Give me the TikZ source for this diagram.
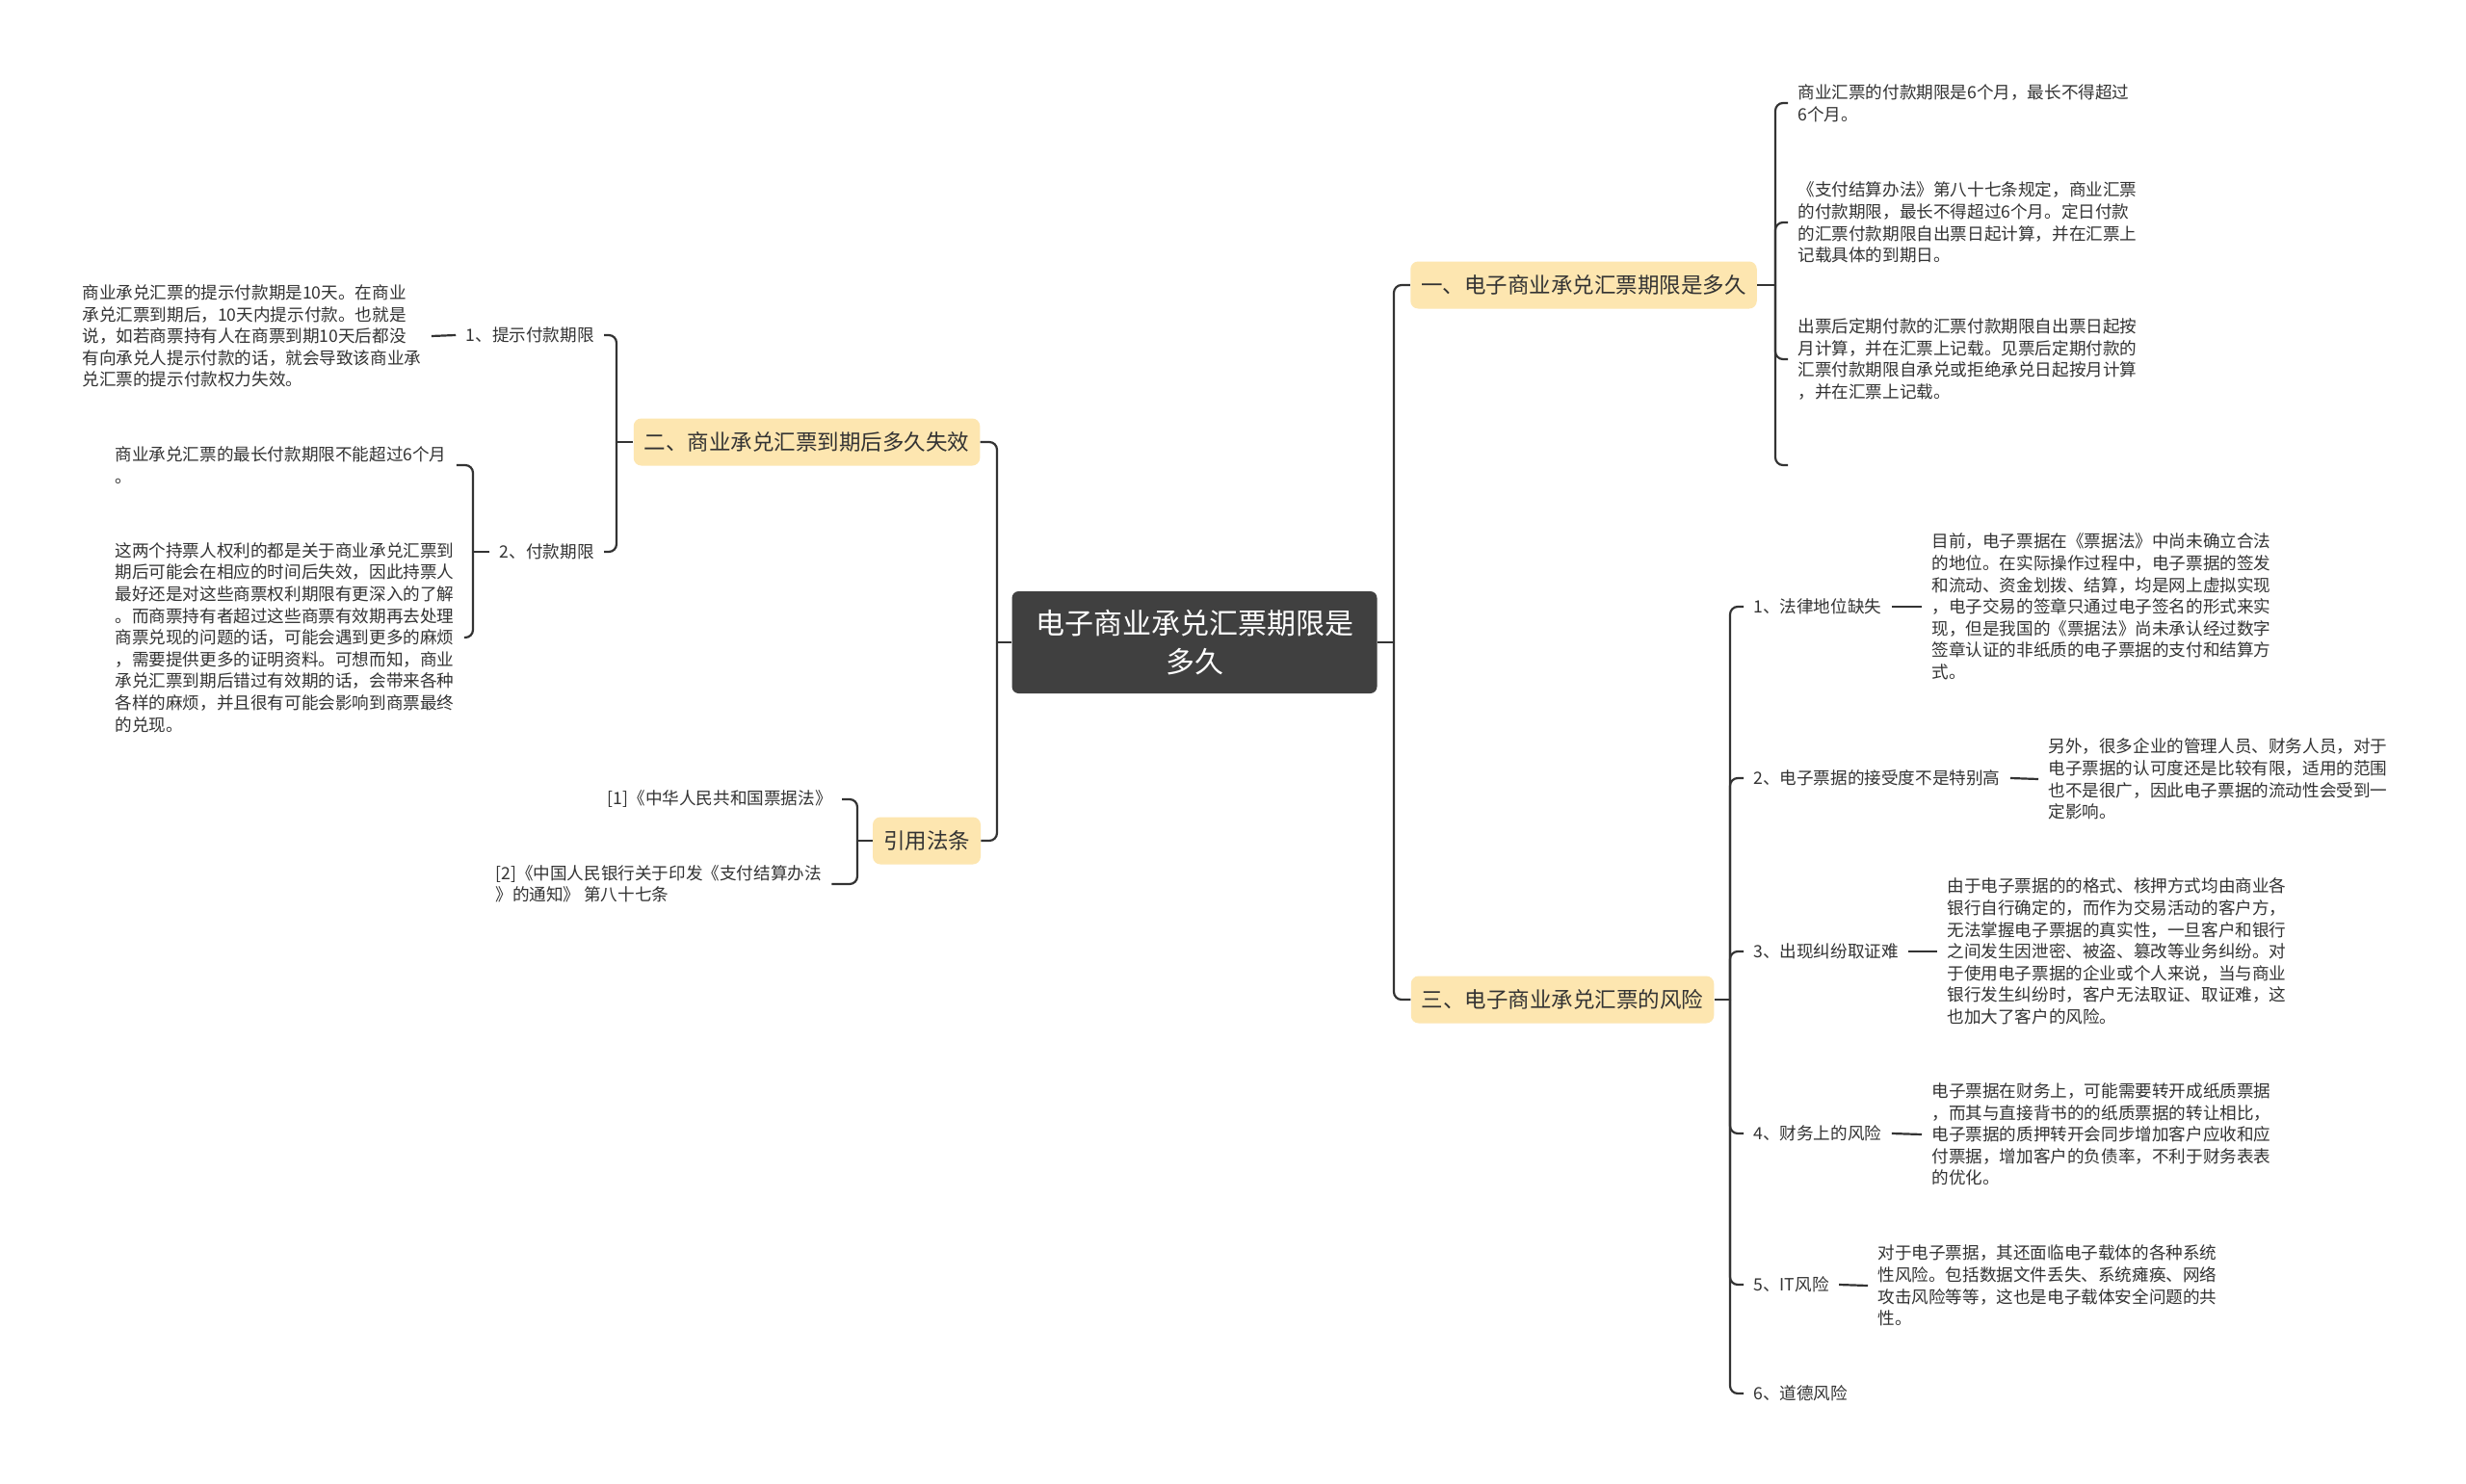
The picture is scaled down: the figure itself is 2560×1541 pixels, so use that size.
\documentclass[tikz,border=0pt]{standalone}
\usepackage{fontspec}
\setmainfont{Noto Sans CJK SC}
\definecolor{linec}{HTML}{333333}
\definecolor{rootfill}{HTML}{404040}
\definecolor{branchfill}{HTML}{FDE6B0}
\definecolor{textc}{HTML}{333333}

\begin{document}
\begin{tikzpicture}[x=0.5pt, y=-0.5pt,
    conn/.style={draw=linec, line width=1.1pt, rounded corners=4pt},
    rootbox/.style={fill=rootfill, rounded corners=3.5pt, text=white, align=center,
        minimum width=189.5pt, minimum height=53pt, font=\fontsize{15}{20}\selectfont},
    branch/.style={fill=branchfill, rounded corners=4pt, text=textc, minimum height=24.5pt,
        inner xsep=5.5pt, font=\fontsize{11.25}{14}\selectfont},
    leaf/.style={text=textc, align=left, inner xsep=5pt, inner ysep=2pt,
        font=\fontsize{8.8}{11.3}\selectfont}]
    \fill[white] (0,0) rectangle (2560,1541);
    \useasboundingbox (0,0) rectangle (2560,1541);

    % centre and main branches
    \node[rootbox] (root) at (1240,667) {电子商业承兑汇票期限是\\多久};
    \node[branch] (b1) at (1644,296) {一、电子商业承兑汇票期限是多久};
    \node[branch] (b2) at (837.5,459) {二、商业承兑汇票到期后多久失效};
    \node[branch] (b3) at (1622,1038) {三、电子商业承兑汇票的风险};
    \node[branch] (b4) at (962,873) {引用法条};
    \coordinate (rt) at (1447,667);
    \coordinate (lt) at (1035,667);
    \draw[conn] (root.east) -- (rt);
    \draw[conn] (rt) |- (b1.west);
    \draw[conn] (rt) |- (b3.west);
    \draw[conn] (root.west) -- (lt);
    \draw[conn] (lt) |- (b2.east);
    \draw[conn] (lt) |- (b4.east);

    % branch one
    \node[leaf, anchor=west] (c1) at (1856,107) {商业汇票的付款期限是6个月，最长不得超过\\6个月。};
    \node[leaf, anchor=west] (c2) at (1856,231) {《支付结算办法》第八十七条规定，商业汇票\\的付款期限，最长不得超过6个月。定日付款\\的汇票付款期限自出票日起计算，并在汇票上\\记载具体的到期日。};
    \node[leaf, anchor=west] (c3) at (1856,373) {出票后定期付款的汇票付款期限自出票日起按\\月计算，并在汇票上记载。见票后定期付款的\\汇票付款期限自承兑或拒绝承兑日起按月计算\\，并在汇票上记载。};
    \coordinate (c4) at (1856,483);
    \coordinate (k1) at (1843,296);
    \draw[conn] (b1.east) -- (k1);
    \foreach \c in {c1,c2,c3,c4}
        \draw[conn] (k1) |- (\c.west);

    % branch two
    \node[leaf, anchor=east] (l1) at (627,348) {1、提示付款期限};
    \node[leaf, anchor=east] (l2) at (627,573) {2、付款期限};
    \coordinate (k2) at (640,459);
    \draw[conn] (b2.west) -- (k2);
    \draw[conn] (k2) |- (l1.east);
    \draw[conn] (k2) |- (l2.east);
    \node[leaf, anchor=west] (d1) at (75,349) {商业承兑汇票的提示付款期是10天。在商业\\承兑汇票到期后，10天内提示付款。也就是\\说，如若商票持有人在商票到期10天后都没\\有向承兑人提示付款的话，就会导致该商业承\\兑汇票的提示付款权力失效。};
    \draw[conn] (d1.east) -- (l1.west);
    \node[leaf, anchor=west] (d2) at (109,483) {商业承兑汇票的最长付款期限不能超过6个月\\。};
    \node[leaf, anchor=west] (d3) at (109,662) {这两个持票人权利的都是关于商业承兑汇票到\\期后可能会在相应的时间后失效，因此持票人\\最好还是对这些商票权利期限有更深入的了解\\。而商票持有者超过这些商票有效期再去处理\\商票兑现的问题的话，可能会遇到更多的麻烦\\，需要提供更多的证明资料。可想而知，商业\\承兑汇票到期后错过有效期的话，会带来各种\\各样的麻烦，并且很有可能会影响到商票最终\\的兑现。};
    \coordinate (k5) at (491,573);
    \draw[conn] (l2.west) -- (k5);
    \draw[conn] (k5) |- (d2.east);
    \draw[conn] (k5) |- (d3.east);

    % cited laws
    \node[leaf, anchor=east] (r1) at (874,830) {[1]《中华人民共和国票据法》};
    \node[leaf, anchor=west] (r2) at (504,918) {[2]《中国人民银行关于印发《支付结算办法\\》的通知》 第八十七条};
    \coordinate (k4) at (890,873);
    \draw[conn] (b4.west) -- (k4);
    \draw[conn] (k4) |- (r1.east);
    \draw[conn] (k4) |- (r2.east);

    % branch three
    \coordinate (k3) at (1796,1038);
    \draw[conn] (b3.east) -- (k3);
    \foreach \n/\y/\t in {s1/630/1、法律地位缺失, s2/808/2、电子票据的接受度不是特别高,
        s3/988/3、出现纠纷取证难, s4/1177/4、财务上的风险, s5/1334/5、IT风险, s6/1447/6、道德风险} {
        \node[leaf, anchor=west] (\n) at (1810,\y) {\t};
        \draw[conn] (k3) |- (\n.west);
    }
    \node[leaf, anchor=west] (e1) at (1995,630) {目前，电子票据在《票据法》中尚未确立合法\\的地位。在实际操作过程中，电子票据的签发\\和流动、资金划拨、结算，均是网上虚拟实现\\，电子交易的签章只通过电子签名的形式来实\\现，但是我国的《票据法》尚未承认经过数字\\签章认证的非纸质的电子票据的支付和结算方\\式。};
    \node[leaf, anchor=west] (e2) at (2116,809) {另外，很多企业的管理人员、财务人员，对于\\电子票据的认可度还是比较有限，适用的范围\\也不是很广，因此电子票据的流动性会受到一\\定影响。};
    \node[leaf, anchor=west] (e3) at (2011,988) {由于电子票据的的格式、核押方式均由商业各\\银行自行确定的，而作为交易活动的客户方，\\无法掌握电子票据的真实性，一旦客户和银行\\之间发生因泄密、被盗、篡改等业务纠纷。对\\于使用电子票据的企业或个人来说，当与商业\\银行发生纠纷时，客户无法取证、取证难，这\\也加大了客户的风险。};
    \node[leaf, anchor=west] (e4) at (1995,1178) {电子票据在财务上，可能需要转开成纸质票据\\，而其与直接背书的的纸质票据的转让相比，\\电子票据的质押转开会同步增加客户应收和应\\付票据，增加客户的负债率，不利于财务表表\\的优化。};
    \node[leaf, anchor=west] (e5) at (1939,1335) {对于电子票据，其还面临电子载体的各种系统\\性风险。包括数据文件丢失、系统瘫痪、网络\\攻击风险等等，这也是电子载体安全问题的共\\性。};
    \foreach \a/\b in {s1/e1, s2/e2, s3/e3, s4/e4, s5/e5}
        \draw[conn] (\a.east) -- (\b.west);
\end{tikzpicture}
\end{document}
